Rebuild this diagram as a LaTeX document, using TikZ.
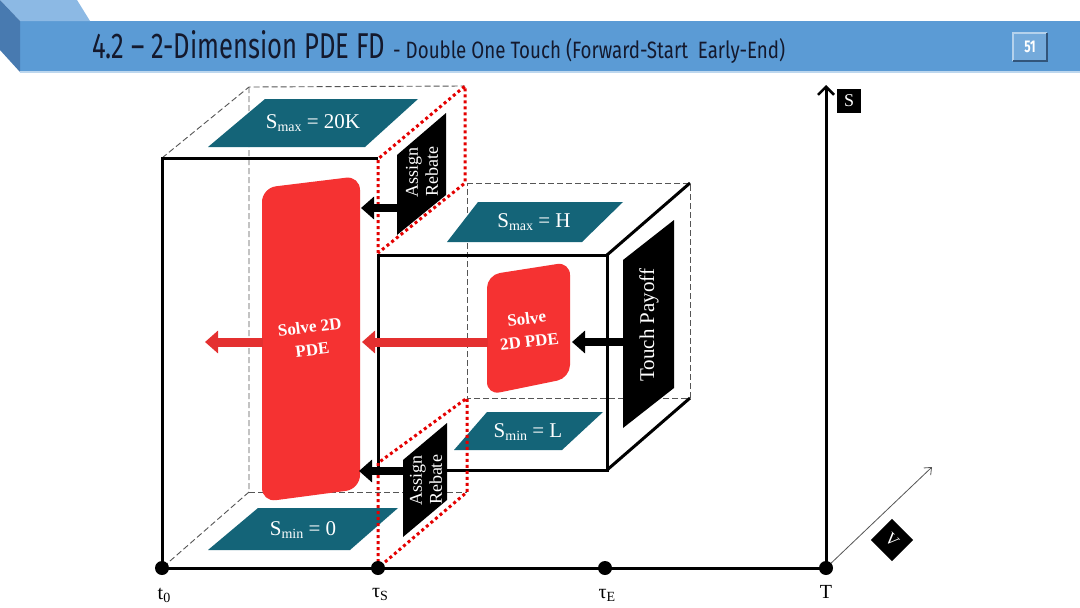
\documentclass[tikz,border=0pt]{standalone}
\usepackage{fontspec}
\setmainfont{Liberation Serif}
\usetikzlibrary{arrows.meta}
\newfontfamily\titlefont{Fira Sans}
\definecolor{hdrmain}{RGB}{91,155,213}
\definecolor{hdrtop}{RGB}{140,185,228}
\definecolor{hdrside}{RGB}{72,122,176}
\definecolor{titlecol}{RGB}{20,25,45}
\definecolor{tealbox}{RGB}{20,100,120}
\definecolor{redshape}{RGB}{245,50,50}
\definecolor{redarrow}{RGB}{228,48,48}
\definecolor{dotred}{RGB}{228,0,0}
\definecolor{dashgray}{RGB}{85,85,85}
\newcommand{\sub}[1]{\raisebox{-0.35ex}{\fontsize{14}{14}\selectfont #1}}
\tikzset{
  frontline/.style={line width=3pt, black},
  backdash/.style={dashgray, line width=0.9pt, dash pattern=on 6pt off 3pt},
  reddot/.style={dotred, line width=3pt, dash pattern=on 3pt off 3pt},
  tealpar/.style={fill=tealbox},
  blackpar/.style={fill=black},
  blkarrow/.style={black, line width=8pt, -{Triangle[length=13pt,width=22pt]}},
  redarr/.style={redarrow, line width=9pt, -{Triangle[length=13pt,width=22pt]}},
  tealtext/.style={text=white, inner sep=0, font=\fontsize{21}{21}\selectfont},
  blktext/.style={text=white, inner sep=0, align=center, rotate=90, font=\fontsize{18}{20}\selectfont},
  redtext/.style={text=white, inner sep=0, align=center, font=\bfseries\fontsize{17}{23}\selectfont},
  axislbl/.style={anchor=base, inner sep=0, font=\fontsize{20}{20}\selectfont},
  tick/.style={circle, fill=black, inner sep=0, minimum size=14pt},
}
\begin{document}
\begin{tikzpicture}[x=1pt,y=-1pt]
\useasboundingbox (0,0) rectangle (1080,608);
\fill[white] (0,0) rectangle (1080,608);
% ---------- header ----------
\fill[hdrmain] (20,21) rectangle (1080,72);
\fill[hdrtop] (0,0) -- (77,0) -- (90,21) -- (20,21) -- cycle;
\fill[hdrside] (0,0) -- (20,21) -- (20,72) -- (0,50) -- cycle;
\draw[white!60!hdrmain, line width=1.2pt] (20,72) -- (1080,72);
\node[anchor=base west, inner sep=0, text=titlecol] (title) at (92,58)
  {\resizebox{293pt}{28pt}{\titlefont 4.2 – 2-Dimension PDE FD}};
\node[anchor=base west, inner sep=0, text=titlecol] (subtitle) at (393,58)
  {\resizebox{392pt}{20pt}{\titlefont - Double One Touch (Forward-Start\ \ Early-End)}};
\node[fill=hdrmain!85!white, minimum width=34pt, minimum height=27pt, inner sep=0,
  text=white, font=\titlefont\bfseries\fontsize{17}{17}\selectfont] (pg) at (1030,47)
  {\scalebox{0.7}[1]{51}};
\draw[white!55!hdrmain, line width=2pt] (pg.south west) -- (pg.north west) -- (pg.north east);
\draw[hdrside!70!black, line width=2pt] (pg.north east) -- (pg.south east) -- (pg.south west);
% ---------- back dashed edges ----------
\draw[backdash] (162,158) -- (249,87) -- (465,86);
\draw[backdash] (249,87) -- (249,492) -- (162,568);
\draw[backdash] (249,492) -- (467,492);
\draw[backdash] (467,183) -- (690,183) -- (690,398) -- (467,398) -- cycle;
% ---------- teal labels ----------
\fill[tealpar] (265,99) -- (418,99) -- (365,147) -- (208,147) -- cycle;
\node[tealtext] (smax1) at (313,123) {S\sub{max} = 20K};
\fill[tealpar] (478,202) -- (623,202) -- (582,242) -- (447,242) -- cycle;
\node[tealtext] (smax2) at (534,222) {S\sub{max} = H};
\fill[tealpar] (487,412) -- (603,412) -- (562,450) -- (454,450) -- cycle;
\node[tealtext] (smin2) at (528,432) {S\sub{min} = L};
\fill[tealpar] (258,508) -- (398,508) -- (350,550) -- (208,550) -- cycle;
\node[tealtext] (smin1) at (303,530) {S\sub{min} = 0};
% ---------- red solve shapes ----------
\fill[redshape, rounded corners=14pt] (262,188) -- (360,176) -- (360,489) -- (262,502) -- cycle;
\node[redtext, rotate=7] (solve1) at (311,338) {Solve 2D\\PDE};
\fill[redshape, rounded corners=13pt] (487,275) -- (570,262) -- (570,378) -- (487,395) -- cycle;
\node[redtext, rotate=7] (solve2) at (528,330) {Solve\\2D PDE};
% ---------- cube solid edges ----------
\draw[frontline] (378,158) -- (162,158) -- (162,568);
\draw[frontline] (378,255) rectangle (607,470);
\draw[frontline] (607,255) -- (690,183);
\draw[frontline] (690,398) -- (607,470);
% ---------- red dotted right faces of big cube ----------
\draw[reddot] (378,253) -- (378,159) -- (465,86) -- (465,183) -- cycle;
\draw[reddot] (378,568) -- (378,463) -- (467,398) -- (467,492) -- cycle;
% ---------- black boundary labels ----------
\fill[blackpar] (397,155) -- (446,113) -- (446,195) -- (397,235) -- cycle;
\node[blktext] (reb1) at (422,172) {Assign\\Rebate};
\fill[blackpar] (403,460) -- (447,423) -- (447,500) -- (403,537) -- cycle;
\node[blktext] (reb2) at (426,480) {Assign\\Rebate};
\fill[blackpar] (623,260) -- (674,220) -- (674,388) -- (623,428) -- cycle;
\node[blktext, font=\fontsize{21}{22}\selectfont] (touch) at (649,325) {Touch Payoff};
% ---------- arrows ----------
\coordinate (reb1L) at (398,208);
\coordinate (solve1R) at (361,208);
\coordinate (reb2L) at (404,471);
\coordinate (solve1Rb) at (359,471);
\coordinate (touchL) at (624,342);
\coordinate (solve2R) at (572,342);
\coordinate (solve2L) at (488,342);
\coordinate (solve1Rm) at (362,342);
\coordinate (solve1L) at (263,342);
\coordinate (outL) at (205,342);
\draw[blkarrow] (reb1L) -- (solve1R);
\draw[blkarrow] (reb2L) -- (solve1Rb);
\draw[blkarrow] (touchL) -- (solve2R);
\draw[redarr] (solve2L) -- (solve1Rm);
\draw[redarr] (solve1L) -- (outL);
% ---------- time axis ----------
\coordinate (t0c) at (162,568);
\coordinate (Tc) at (826,568);
\coordinate (Stop) at (826,85);
\coordinate (Vtip) at (932,467);
\draw[line width=3pt] (t0c) -- (Tc);
\draw[line width=3pt, -{Straight Barb[length=8pt,width=16pt,line width=2.5pt]}] (Tc) -- (Stop);
\draw[dashgray, line width=0.8pt, -{Straight Barb[length=6pt,width=10pt]}] (Tc) -- (Vtip);
\node[tick] (t0) at (t0c) {};
\node[tick] (tS) at (378,568) {};
\node[tick] (tE) at (605,568) {};
\node[tick] (T) at (Tc) {};
\node[axislbl] (t0l) at (164,599) {t\sub{0}};
\node[axislbl] (tSl) at (380,597) {τ\sub{S}};
\node[axislbl] (tEl) at (607,598) {τ\sub{E}};
\node[axislbl] (Tl) at (826,598) {T};
\node[fill=black, text=white, minimum size=24pt, inner sep=0, font=\fontsize{18}{18}\selectfont] (Slbl) at (849,101) {S};
\node[fill=black, text=white, minimum size=30pt, inner sep=0, rotate=-45, font=\fontsize{17}{17}\selectfont] (Vlbl) at (892,540) {V};
\end{tikzpicture}
\end{document}
